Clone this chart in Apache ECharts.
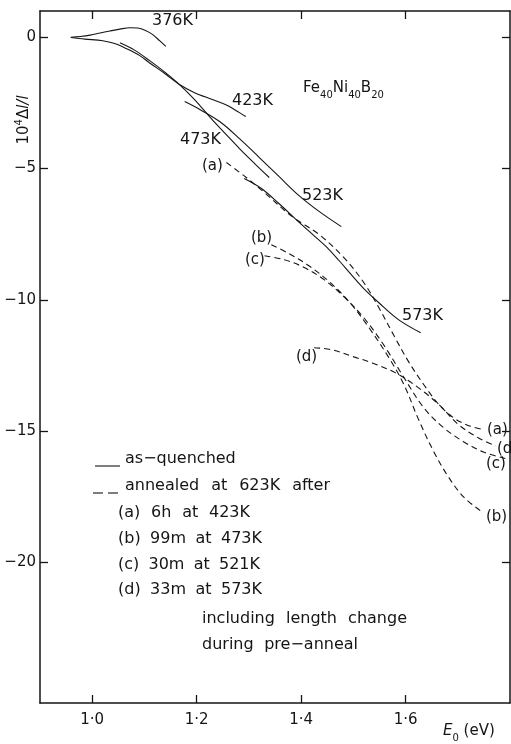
<!DOCTYPE html>
<html><head><meta charset="utf-8">
<script src="https://cdn.jsdelivr.net/npm/echarts@6/dist/echarts.min.js"></script>
<style>html,body{margin:0;padding:0;background:#fff}#c{width:511px;height:744px}</style>
</head><body><div id="c"></div>
<script>
// ---- data (E0 in eV, 10^4 dl/l) ----
const xTickValues = [1.0, 1.2, 1.4, 1.6];
const yTickValues = [0, -5, -10, -15, -20];

const curve376K = [[0.959,0],[0.977,0.03],[0.996,0.08],[1.015,0.16],[1.034,0.24],[1.053,0.31],[1.072,0.36],[1.087,0.35],[1.102,0.26],[1.116,0.10],[1.129,-0.13],[1.141,-0.35]];
const curve423K = [[0.959,-0.01],[0.986,-0.07],[1.020,-0.13],[1.043,-0.24],[1.066,-0.44],[1.091,-0.70],[1.110,-0.98],[1.139,-1.38],[1.167,-1.80],[1.196,-2.11],[1.230,-2.37],[1.259,-2.60],[1.282,-2.87],[1.294,-3.02]];
const curve473K = [[1.053,-0.21],[1.081,-0.49],[1.110,-0.89],[1.139,-1.33],[1.167,-1.80],[1.196,-2.37],[1.228,-3.10],[1.253,-3.63],[1.282,-4.24],[1.311,-4.81],[1.339,-5.34]];
const curve523K = [[1.177,-2.45],[1.206,-2.75],[1.244,-3.21],[1.282,-3.86],[1.320,-4.58],[1.358,-5.31],[1.396,-6.03],[1.435,-6.64],[1.477,-7.21]];
const curve573K = [[1.291,-5.38],[1.324,-5.76],[1.358,-6.34],[1.391,-6.95],[1.425,-7.56],[1.448,-7.97],[1.473,-8.51],[1.496,-9.04],[1.520,-9.57],[1.549,-10.11],[1.587,-10.76],[1.629,-11.25]];

const annealA = [[1.257,-4.77],[1.295,-5.34],[1.330,-5.92],[1.383,-6.83],[1.435,-7.52],[1.482,-8.39],[1.520,-9.34],[1.549,-10.30],[1.578,-11.37],[1.606,-12.36],[1.635,-13.23],[1.664,-13.99],[1.692,-14.49],[1.721,-14.79],[1.749,-14.94]];
const annealB = [[1.343,-7.90],[1.377,-8.24],[1.415,-8.70],[1.454,-9.31],[1.492,-10.07],[1.530,-11.06],[1.568,-12.20],[1.597,-13.23],[1.625,-14.56],[1.654,-15.78],[1.683,-16.77],[1.711,-17.50],[1.746,-18.07]];
const annealC = [[1.330,-8.32],[1.368,-8.47],[1.406,-8.77],[1.444,-9.23],[1.482,-9.88],[1.520,-10.68],[1.558,-11.71],[1.597,-12.96],[1.635,-14.11],[1.673,-14.87],[1.711,-15.40],[1.749,-15.79],[1.793,-16.05]];
const annealD = [[1.425,-11.82],[1.459,-11.90],[1.501,-12.17],[1.536,-12.40],[1.581,-12.78],[1.625,-13.35],[1.664,-13.99],[1.702,-14.76],[1.740,-15.26],[1.772,-15.56]];

const legendLines = ['as\u2212quenched','annealed at 623K after','(a) 6h at 423K','(b) 99m at 473K','(c) 30m at 521K','(d) 33m at 573K','including length change','during pre\u2212anneal'];

// ---- rendering ----
const FONT = 'DejaVu Sans';
const INK = '#151515';
const chart = echarts.init(document.getElementById('c'), null, {renderer:'canvas'});
const meas = document.createElement('canvas').getContext('2d');
function tw(str, size, style){ meas.font = (style||'normal')+' '+size+'px "'+FONT+'"'; return meas.measureText(str).width; }

function txt(x, y, str, size, extra){
  return Object.assign({type:'text', x:x, y:y, silent:true,
    style:Object.assign({text:str, font:'normal '+(size||16)+'px "'+FONT+'"', fill:INK, textVerticalAlign:'middle', textAlign:'left'}, (extra||{}))});
}
function pieces(x, y, parts){
  const out=[]; let cx=x;
  parts.forEach(p=>{ const st=p[3]||'normal';
    out.push({type:'text', x:cx, y:y+(p[2]||0), silent:true, style:{text:p[0], font:st+' '+p[1]+'px "'+FONT+'"', fill:INK, textVerticalAlign:'middle'}});
    cx += tw(p[0], p[1], st);
  });
  return out;
}
function spread(x0, x1, y, str, size){
  const words = str.split(' ');
  if (words.length < 2) return [txt(x0, y, str, size)];
  const ws = words.map(w=>tw(w,size));
  const total = ws.reduce((a,b)=>a+b,0);
  const gap = Math.max(tw(' ',size), (x1-x0-total)/(words.length-1));
  const out=[]; let cx=x0;
  words.forEach((w,i)=>{ out.push(txt(cx,y,w,size)); cx += ws[i]+gap; });
  return out;
}

const solid = {color:INK, width:1.1};
const dashed = {color:INK, width:1.1, type:[6,4]};
function mk(data, ls){ return {type:'line', data:data, showSymbol:false, smooth:0.35, lineStyle:ls, silent:true, animation:false, xAxisIndex:0, yAxisIndex:0}; }

const g = [];
g.push(txt(152,21,'376K',16));
g.push(txt(232,101,'423K',16));
g.push(txt(180,140,'473K',16));
g.push(txt(202,166,'(a)',15));
g.push(txt(302,196,'523K',16));
g.push(txt(251,238,'(b)',15));
g.push(txt(245,260,'(c)',15));
g.push(txt(402,316,'573K',16));
g.push(txt(296,357,'(d)',15));
g.push(txt(487,430,'(a)',15));
g.push(txt(497,449,'(d)',15));
g.push(txt(486,464,'(c)',15));
g.push(txt(486,517,'(b)',15));
pieces(303,88,[['Fe',15,0],['40',10,7],['Ni',15,0],['40',10,7],['B',15,0],['20',10,7]]).forEach(e=>g.push(e));
pieces(443,731,[['E',15,0,'italic'],['0',10,7],[' (eV)',15,0]]).forEach(e=>g.push(e));
(function(){
  const parts=[['10',15,0],['4',10,-5],['\u0394',15,0],['l/l',15,0,'italic']];
  let w=0; parts.forEach(p=>w+=tw(p[0],p[1],p[3]||'normal'));
  const ch = pieces(-w/2,0,parts);
  g.push({type:'group', x:24, y:120, rotation:Math.PI/2, children:ch});
})();
g.push({type:'line', shape:{x1:95,y1:466,x2:120,y2:466}, style:{stroke:INK, lineWidth:1.1}, silent:true});
g.push({type:'line', shape:{x1:93,y1:493,x2:103,y2:493}, style:{stroke:INK, lineWidth:1.1}, silent:true});
g.push({type:'line', shape:{x1:108,y1:493,x2:118,y2:493}, style:{stroke:INK, lineWidth:1.1}, silent:true});
const legendBox = [[125,233,459],[125,330,486],[118,250,513],[118,262,539],[118,260,565],[118,262,590],[202,407,619],[202,358,645]];
legendLines.forEach((s,i)=>spread(legendBox[i][0],legendBox[i][1],legendBox[i][2],s,16).forEach(e=>g.push(e)));

const axisLine = {onZero:false, lineStyle:{color:INK, width:1.5}};
chart.setOption({
  animation:false,
  backgroundColor:'#fff',
  grid:{left:40, right:1, top:11, bottom:41, containLabel:false},
  xAxis:[
    {type:'value', position:'bottom', min:0.9, max:1.8, axisLine:axisLine, splitLine:{show:false},
     axisTick:{inside:true, length:8, customValues:xTickValues, lineStyle:{color:INK,width:1.3}},
     axisLabel:{customValues:xTickValues, margin:10, color:INK, fontFamily:FONT, fontSize:15, formatter:v=>v.toFixed(1).replace('.', '\u00b7')}},
    {type:'value', position:'top', min:0.9, max:1.8, axisLine:axisLine, splitLine:{show:false},
     axisTick:{inside:true, length:8, customValues:xTickValues, lineStyle:{color:INK,width:1.3}},
     axisLabel:{show:false}}
  ],
  yAxis:[
    {type:'value', position:'left', min:-25.35, max:1.0, axisLine:axisLine, splitLine:{show:false},
     axisTick:{inside:true, length:8, customValues:yTickValues, lineStyle:{color:INK,width:1.3}},
     axisLabel:{customValues:yTickValues, margin:4, color:INK, fontFamily:FONT, fontSize:15, formatter:v=>v===0?'0':'\u2212'+Math.abs(v)}},
    {type:'value', position:'right', min:-25.35, max:1.0, axisLine:axisLine, splitLine:{show:false},
     axisTick:{inside:true, length:8, customValues:yTickValues, lineStyle:{color:INK,width:1.3}},
     axisLabel:{show:false}}
  ],
  series:[
    mk(curve376K, solid), mk(curve423K, solid), mk(curve473K, solid), mk(curve523K, solid), mk(curve573K, solid),
    mk(annealA, dashed), mk(annealB, dashed), mk(annealC, dashed), mk(annealD, dashed)
  ],
  graphic:g
});
</script></body></html>
